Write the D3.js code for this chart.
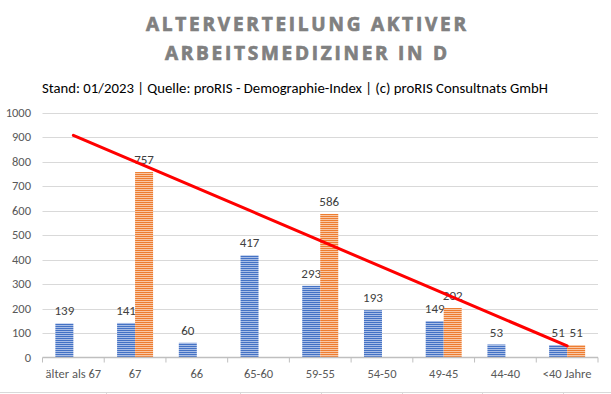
<!DOCTYPE html>
<html>
<head>
<meta charset="utf-8">
<script src="https://cdn.jsdelivr.net/npm/d3@7"></script>
<style>
	body { margin: 0; background: #fff; }
	svg { display: block; font-family: Carlito, Calibri, "Open Sans", sans-serif; }
</style>
</head>
<body>
<svg width="611" height="394"></svg>
<script>
var titleLines = ['ALTERVERTEILUNG AKTIVER', 'ARBEITSMEDIZINER IN D'];
var subtitle = 'Stand: 01/2023 | Quelle: proRIS - Demographie-Index | (c) proRIS Consultnats GmbH';

var categories = ['älter als 67', '67', '66', '65-60', '59-55', '54-50', '49-45', '44-40', '<40 Jahre'];
var seriesBlue = [139, 141, 60, 417, 293, 193, 149, 53, 51];
var seriesOrange = [null, 757, null, null, 586, null, 202, null, 51];
var yTicks = [0, 100, 200, 300, 400, 500, 600, 700, 800, 900, 1000];

// trendline: value at first and at last category
var trendCats = ['älter als 67', '<40 Jahre'];
var trendValues = [907, 47];

var svg = d3.select('svg');
var defs = svg.append('defs');

function stripes(id, dark, light) {
	var p = defs.append('pattern')
		.attr('id', id)
		.attr('patternUnits', 'userSpaceOnUse')
		.attr('width', 4)
		.attr('height', 2);
	p.append('rect').attr('width', 4).attr('height', 2).attr('fill', light);
	p.append('rect').attr('width', 4).attr('height', 1).attr('fill', dark);
}
stripes('blueStripes', '#4472c4', '#a8bde6');
stripes('orangeStripes', '#ed7d31', '#f9c7a5');

// title (stroke thickens the glyphs a bit, like the bold original)
svg.selectAll('.title')
	.data(titleLines)
	.enter().append('text')
	.attr('class', 'title')
	.attr('x', 306)
	.attr('y', function(d, i) { return 31 + i * 29; })
	.attr('text-anchor', 'middle')
	.attr('textLength', function(d, i) { return i === 0 ? 320 : 282; })
	.attr('lengthAdjust', 'spacing')
	.attr('fill', '#808080')
	.attr('stroke', '#808080')
	.attr('stroke-width', 0.7)
	.style('font-family', '"Open Sans", sans-serif')
	.style('font-weight', 700)
	.style('font-size', '19px')
	.text(function(d) { return d; });

svg.append('text')
	.attr('x', 295)
	.attr('y', 93)
	.attr('text-anchor', 'middle')
	.attr('textLength', 506)
	.attr('lengthAdjust', 'spacingAndGlyphs')
	.attr('fill', '#000')
	.attr('font-size', 13.3)
	.text(subtitle);

var plotL = 42.5, plotR = 598, plotT = 112.5, plotB = 357.5;

var x0 = d3.scaleBand()
	.domain(categories)
	.range([plotL, plotR]);

var groupW = 36;
var x1 = d3.scaleBand()
	.domain(['blue', 'orange'])
	.range([x0.bandwidth() / 2 - groupW / 2, x0.bandwidth() / 2 + groupW / 2]);

var y = d3.scaleLinear()
	.domain([0, 1000])
	.range([plotB, plotT]);

// gridlines + y labels
svg.append('g')
	.selectAll('line')
	.data(yTicks.slice(1))
	.enter().append('line')
	.attr('x1', plotL)
	.attr('x2', plotR)
	.attr('y1', function(d) { return Math.round(y(d)) + 0.5; })
	.attr('y2', function(d) { return Math.round(y(d)) + 0.5; })
	.attr('stroke', '#d9d9d9')
	.attr('stroke-width', 1);

svg.append('g')
	.selectAll('text')
	.data(yTicks)
	.enter().append('text')
	.attr('x', 31)
	.attr('y', function(d) { return y(d); })
	.attr('dy', '0.35em')
	.attr('text-anchor', 'end')
	.attr('fill', '#595959')
	.attr('font-size', 12.5)
	.text(function(d) { return d; });

// bars
var rows = categories.map(function(c, i) {
	return {cat: c, values: [
		{key: 'blue', v: seriesBlue[i]},
		{key: 'orange', v: seriesOrange[i]}]};
});

var groups = svg.append('g')
	.selectAll('g')
	.data(rows)
	.enter().append('g')
	.attr('transform', function(d) { return 'translate(' + x0(d.cat) + ',0)'; });

var bars = groups.selectAll('g')
	.data(function(d) { return d.values.filter(function(e) { return e.v !== null; }); })
	.enter().append('g');

bars.append('rect')
	.attr('x', function(d) { return x1(d.key); })
	.attr('y', function(d) { return y(d.v); })
	.attr('width', x1.bandwidth())
	.attr('height', function(d) { return plotB - y(d.v); })
	.attr('fill', function(d) { return d.key === 'blue' ? 'url(#blueStripes)' : 'url(#orangeStripes)'; });

// x axis
var axis = svg.append('g')
	.attr('transform', 'translate(0,' + plotB + ')');
axis.append('line')
	.attr('x1', plotL)
	.attr('x2', plotR)
	.attr('stroke', '#bfbfbf')
	.attr('stroke-width', 1.3);
axis.selectAll('.tick')
	.data(categories.concat(['end']))
	.enter().append('line')
	.attr('class', 'tick')
	.attr('x1', function(d, i) { return i < categories.length ? x0(d) : plotR; })
	.attr('x2', function(d, i) { return i < categories.length ? x0(d) : plotR; })
	.attr('y1', 0)
	.attr('y2', 5)
	.attr('stroke', '#bfbfbf');
axis.selectAll('.lab')
	.data(categories)
	.enter().append('text')
	.attr('class', 'lab')
	.attr('x', function(d) { return x0(d) + x0.bandwidth() / 2; })
	.attr('y', 20)
	.attr('text-anchor', 'middle')
	.attr('fill', '#595959')
	.attr('font-size', 12.5)
	.text(function(d) { return d; });

// trendline
svg.append('line')
	.attr('x1', x0(trendCats[0]) + x0.bandwidth() / 2)
	.attr('y1', y(trendValues[0]))
	.attr('x2', x0(trendCats[1]) + x0.bandwidth() / 2)
	.attr('y2', y(trendValues[1]))
	.attr('stroke', '#ff0000')
	.attr('stroke-width', 3)
	.attr('stroke-linecap', 'round');

// data labels
bars.append('text')
	.attr('x', function(d) { return x1(d.key) + x1.bandwidth() / 2; })
	.attr('y', function(d) { return y(d.v) - 8; })
	.attr('text-anchor', 'middle')
	.attr('fill', '#404040')
	.attr('font-size', 13)
	.text(function(d) { return d.v; });

// edge of the table below the chart
svg.append('line')
	.attr('x1', 0)
	.attr('x2', 611)
	.attr('y1', 392.5)
	.attr('y2', 392.5)
	.attr('stroke', '#d9d9d9');
svg.append('g')
	.selectAll('line')
	.data([106, 240, 321, 402, 482, 563])
	.enter().append('line')
	.attr('x1', function(d) { return d + 0.5; })
	.attr('x2', function(d) { return d + 0.5; })
	.attr('y1', 392)
	.attr('y2', 394)
	.attr('stroke', '#d9d9d9');
</script>
</body>
</html>
